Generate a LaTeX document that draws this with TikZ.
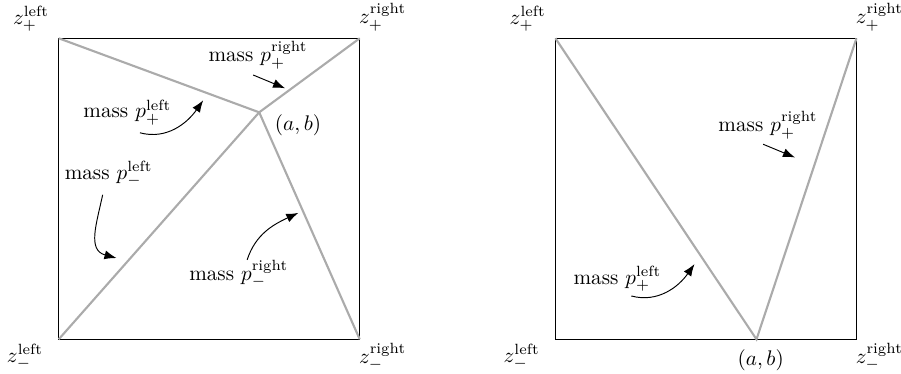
\documentclass[tikz,border=0pt]{standalone}
\usepackage{amsmath}
\usetikzlibrary{arrows.meta}

\begin{document}
\begin{tikzpicture}[>={Latex[length=2mm,width=1.5mm]},
      box/.style={draw, line width=0.5pt},
      part/.style={draw=black!33, line width=1pt},
      pull/.style={->, line width=0.45pt}]
    \useasboundingbox (-0.975,-0.56) rectangle (13.99,5.636);
    % ---- left square, (a,b) inside
    \coordinate (lsw) at (0,0);
    \coordinate (lse) at (5,0);
    \coordinate (lne) at (5,5);
    \coordinate (lnw) at (0,5);
    \coordinate (lab) at (3.33,3.77);
    \draw[box] (lsw) rectangle (lne);
    \foreach \c in {lsw,lse,lne,lnw} { \draw[part] (\c) -- (lab); }
    \node (lzpl) at (-0.46,5.32) {$z_+^{\text{left}}$};
    \node (lzpr) at (5.38,5.35) {$z_+^{\text{right}}$};
    \node (lzml) at (-0.56,-0.29) {$z_-^{\text{left}}$};
    \node (lzmr) at (5.38,-0.29) {$z_-^{\text{right}}$};
    \node[anchor=north west, inner sep=1pt] (labl) at (3.55,3.78) {$(a,b)$};
    \node (lmpr) at (3.31,4.72) {mass $p_+^{\text{right}}$};
    \node (lmpl) at (1.14,3.77) {mass $p_+^{\text{left}}$};
    \node (lmml) at (0.83,2.75) {mass $p_-^{\text{left}}$};
    \node (lmmr) at (2.99,1.09) {mass $p_-^{\text{right}}$};
    \coordinate (a1) at (3.23,4.39); \coordinate (b1) at (3.76,4.17);
    \coordinate (a2) at (1.35,3.43); \coordinate (b2) at (2.40,3.97);
    \coordinate (a3) at (0.73,2.40); \coordinate (b3) at (0.96,1.35);
    \coordinate (a4) at (3.13,1.32); \coordinate (b4) at (3.98,2.10);
    \draw[pull] (a1) -- (b1);
    \draw[pull] (a2) to[out=-15, in=-125] (b2);
    \draw[pull] (a3) to[out=-102, in=165, looseness=1.2] (b3);
    \draw[pull] (a4) to[out=72, in=205] (b4);
    % ---- right square, (a,b) on the bottom side
    \begin{scope}[xshift=82.5mm]
      \coordinate (rsw) at (0,0);
      \coordinate (rne) at (5,5);
      \coordinate (rnw) at (0,5);
      \coordinate (rab) at (3.34,0);
      \draw[box] (rsw) rectangle (rne);
      \draw[part] (rnw) -- (rab) -- (rne);
      \node (rzpl) at (-0.46,5.32) {$z_+^{\text{left}}$};
      \node (rzpr) at (5.38,5.35) {$z_+^{\text{right}}$};
      \node (rzml) at (-0.56,-0.29) {$z_-^{\text{left}}$};
      \node (rzmr) at (5.38,-0.29) {$z_-^{\text{right}}$};
      \node (rabl) at (3.41,-0.34) {$(a,b)$};
      \node (rmpr) at (3.53,3.56) {mass $p_+^{\text{right}}$};
      \node (rmpl) at (1.03,1.01) {mass $p_+^{\text{left}}$};
      \coordinate (c1) at (3.45,3.24); \coordinate (d1) at (3.98,3.02);
      \coordinate (c2) at (1.26,0.72); \coordinate (d2) at (2.31,1.25);
      \draw[pull] (c1) -- (d1);
      \draw[pull] (c2) to[out=-15, in=-125] (d2);
    \end{scope}
  \end{tikzpicture}
\end{document}
